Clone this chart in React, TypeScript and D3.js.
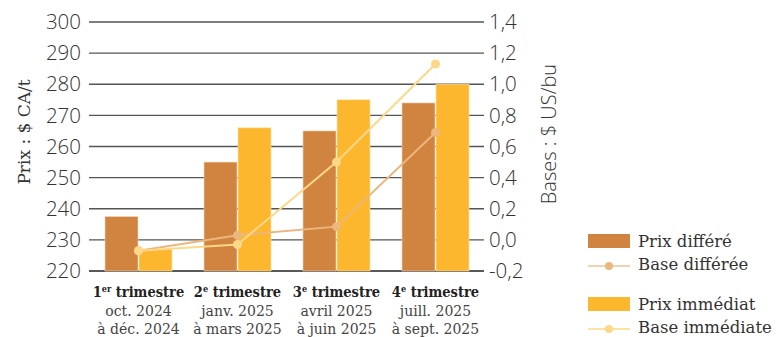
import React from "react";
import * as d3 from "d3";

const quarters = ["Q1", "Q2", "Q3", "Q4"];
const quarterTitleNum = ["1", "2", "3", "4"];
const quarterTitleSup = ["er", "e", "e", "e"];
const quarterLine2 = ["oct. 2024", "janv. 2025", "avril 2025", "juill. 2025"];
const quarterLine3 = ["à déc. 2024", "à mars 2025", "à juin 2025", "à sept. 2025"];

const prixDiffere = [237.5, 255, 265, 274];
const prixImmediat = [227, 266, 275, 280];
const baseDifferee = [-0.07, 0.03, 0.085, 0.69];
const baseImmediate = [-0.07, -0.03, 0.5, 1.13];

const leftTicks = [220, 230, 240, 250, 260, 270, 280, 290, 300];
const rightTicks = [-0.2, 0, 0.2, 0.4, 0.6, 0.8, 1.0, 1.2, 1.4];

const C_DIFF = "#D1843F";
const C_IMM = "#FDB72F";
const C_LDIFF = "#EBB77D";
const C_LIMM = "#FDD888";

const W = 779;
const H = 337;
const L = 89;
const R = 485;
const TOP = 22;
const BOT = 271;

export default function App() {
  const x = d3.scaleBand<string>().domain(quarters).range([L, R]).padding(0);
  const yL = d3.scaleLinear().domain([220, 300]).range([BOT, TOP]);
  const yR = d3.scaleLinear().domain([-0.2, 1.4]).range([BOT, TOP]);
  const barW = 33;
  const gap = 1;
  const cx = (i: number) => (x(quarters[i]) as number) + x.bandwidth() / 2;

  const lineGen = (vals: number[]) =>
    d3
      .line<number>()
      .x((_, i) => cx(i))
      .y((d) => yR(d))(vals) as string;

  const tickFont = "'Open Sans', sans-serif";
  const serif = "'DejaVu Serif', serif";
  const fmtR = (v: number) => d3.format(".1f")(v).replace(".", ",").replace("−", "-");

  return (
    <svg width={W} height={H} style={{ position: "absolute", left: 0, top: 0 }}>
      {/* grid */}
      {leftTicks.map((t, i) => (
        <line
          key={t}
          x1={L}
          x2={R - 1}
          y1={yL(t)}
          y2={yL(t)}
          stroke={i === 0 ? "#222" : "#555"}
          strokeWidth={1.3}
        />
      ))}
      {leftTicks.map((t) => (
        <text
          key={"l" + t}
          x={81}
          y={yL(t)}
          dy="0.35em"
          textAnchor="end"
          fontFamily={tickFont}
          fontWeight={300}
          fontSize={20.5}
          fill="#333"
        >
          {t}
        </text>
      ))}
      {rightTicks.map((t) => (
        <text
          key={"r" + t}
          x={489}
          y={yR(t)}
          dy="0.35em"
          textAnchor="start"
          fontFamily={tickFont}
          fontWeight={300}
          fontSize={20.5}
          fill="#333"
        >
          {fmtR(t)}
        </text>
      ))}
      <text
        transform={`translate(30,${132}) rotate(-90)`}
        textAnchor="middle"
        fontFamily={serif}
        fontSize={17}
        fill="#333"
      >
        Prix : $ CA/t
      </text>
      <text
        transform={`translate(556,${134}) rotate(-90)`}
        textAnchor="middle"
        fontFamily={tickFont}
        fontWeight={300}
        fontSize={20}
        fill="#333"
      >
        Bases : $ US/bu
      </text>

      {/* bars */}
      {quarters.map((q, i) => (
        <g key={q}>
          <rect
            x={cx(i) - gap / 2 - barW}
            y={yL(prixDiffere[i])}
            width={barW}
            height={BOT - yL(prixDiffere[i])}
            fill={C_DIFF}
            stroke="#F3D9BE"
            strokeWidth={0.6}
          />
          <rect
            x={cx(i) + gap / 2}
            y={yL(prixImmediat[i])}
            width={barW}
            height={BOT - yL(prixImmediat[i])}
            fill={C_IMM}
            stroke="#FFE3A8"
            strokeWidth={0.6}
          />
        </g>
      ))}

      {/* lines */}
      <path d={lineGen(baseDifferee)} fill="none" stroke={C_LDIFF} strokeWidth={2} />
      {baseDifferee.map((v, i) => (
        <circle key={"d" + i} cx={cx(i)} cy={yR(v)} r={4.5} fill={C_LDIFF} />
      ))}
      <path d={lineGen(baseImmediate)} fill="none" stroke={C_LIMM} strokeWidth={2} />
      {baseImmediate.map((v, i) => (
        <circle key={"i" + i} cx={cx(i)} cy={yR(v)} r={4.5} fill={C_LIMM} />
      ))}

      {/* category labels */}
      {quarters.map((q, i) => (
        <g key={"c" + q} fontFamily={serif} fill="#222" textAnchor="middle">
          <text x={cx(i)} y={297} fontSize={14.5} fontWeight={600} style={{ fontStretch: "condensed" }}>
            {quarterTitleNum[i]}
            <tspan fontSize={9} dy={-5}>
              {quarterTitleSup[i]}
            </tspan>
            <tspan dy={5}> trimestre</tspan>
          </text>
          <text x={cx(i)} y={316} fontSize={14} fill="#444">
            {quarterLine2[i]}
          </text>
          <text x={cx(i)} y={334} fontSize={14} fill="#444">
            {quarterLine3[i]}
          </text>
        </g>
      ))}

      {/* legend */}
      <g fontFamily={serif} fontSize={16.5} fill="#333">
        <rect x={588} y={234} width={42} height={14} fill={C_DIFF} />
        <text x={638} y={247}>Prix différé</text>
        <line x1={588} x2={630} y1={266} y2={266} stroke={C_LDIFF} strokeWidth={1.5} opacity={0.8} />
        <circle cx={609} cy={266} r={4} fill={C_LDIFF} />
        <text x={638} y={270}>Base différée</text>
        <rect x={588} y={297} width={42} height={14} fill={C_IMM} />
        <text x={638} y={310}>Prix immédiat</text>
        <line x1={588} x2={630} y1={329} y2={329} stroke={C_LIMM} strokeWidth={1.5} />
        <circle cx={609} cy={329} r={4} fill={C_LIMM} />
        <text x={638} y={333}>Base immédiate</text>
      </g>
    </svg>
  );
}
